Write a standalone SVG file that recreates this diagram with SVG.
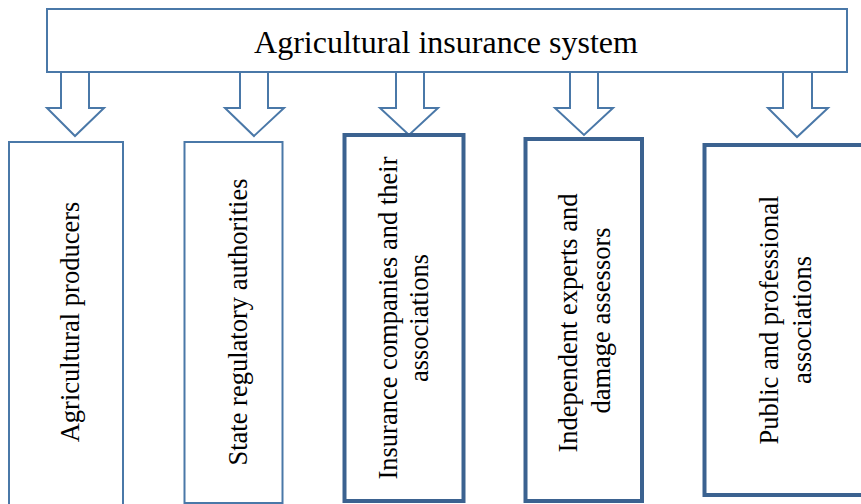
<svg xmlns="http://www.w3.org/2000/svg" width="861" height="504" viewBox="0 0 861 504">
<style>
.bg{fill:#ffffff}
.thin{fill:#ffffff;stroke:#4A78A8;stroke-width:2}
.thick{fill:#ffffff;stroke:#3B6290;stroke-width:4}
.arrow{fill:#ffffff;stroke:#4A78A8;stroke-width:2;stroke-linejoin:miter}
.title{font-family:"Liberation Serif","Times New Roman",serif;font-size:32px;fill:#000000;text-anchor:middle}
.lbl{font-family:"Liberation Serif","Times New Roman",serif;font-size:26.5px;fill:#000000;text-anchor:middle}
</style>
<rect class="bg" x="0" y="0" width="861" height="504"/>
<g id="connectors">
<polygon class="arrow" points="61,72 89,72 89,108 104,108 75,136 47,108 61,108"/>
<polygon class="arrow" points="240,72 268,72 268,108 284,108 254,136 225,108 240,108"/>
<polygon class="arrow" points="396,72 424,72 424,108 438,108 409,135 380,108 396,108"/>
<polygon class="arrow" points="570,72 598,72 598,108 613,108 584,135 555,108 570,108"/>
<polygon class="arrow" points="783,72 812,72 812,108 828,108 797,137 768,108 783,108"/>
</g>
<g id="system">
<rect class="thin" x="47" y="9" width="800" height="63"/>
<text class="title" x="446" y="53">Agricultural insurance system</text>
</g>
<g id="producers">
<rect class="thin" x="9" y="142" width="114" height="380"/>
<text class="lbl" transform="translate(79,322) rotate(-90)">Agricultural producers</text>
</g>
<g id="state">
<rect class="thin" x="184.5" y="142" width="98" height="361"/>
<text class="lbl" transform="translate(246.5,322) rotate(-90)">State regulatory authorities</text>
</g>
<g id="insurance">
<rect class="thick" x="344.5" y="135" width="119" height="366"/>
<text class="lbl" transform="translate(397,318) rotate(-90)">Insurance companies and their</text>
<text class="lbl" transform="translate(428,318) rotate(-90)">associations</text>
</g>
<g id="experts">
<rect class="thick" x="525.5" y="139" width="116.5" height="362"/>
<text class="lbl" transform="translate(577,323) rotate(-90)">Independent experts and</text>
<text class="lbl" transform="translate(609.5,320.5) rotate(-90)">damage assessors</text>
</g>
<g id="public">
<rect class="thick" x="704.5" y="145" width="180" height="350"/>
<text class="lbl" transform="translate(778,320) rotate(-90)">Public and professional</text>
<text class="lbl" transform="translate(811,320) rotate(-90)">associations</text>
</g>
</svg>
